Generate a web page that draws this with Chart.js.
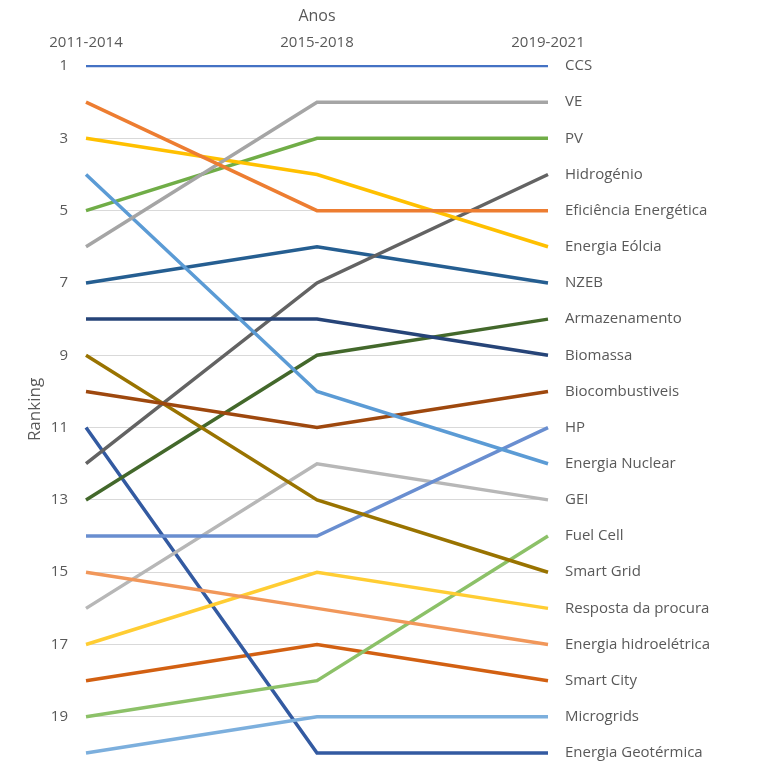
<!DOCTYPE html>
<html>
<head>
<meta charset="utf-8">
<script src="https://cdn.jsdelivr.net/npm/chart.js@4.4.1/dist/chart.umd.min.js"></script>
<style>
  html, body { margin: 0; padding: 0; background: #ffffff; }
  #wrap { width: 764px; height: 771px; position: relative; }
</style>
</head>
<body>
<div id="wrap"><canvas id="bump"></canvas></div>
<script>
const periods = ["2011-2014", "2015-2018", "2019-2021"];
const techNames = [
  "CCS", "Eficiência Energética", "VE", "Energia Eólcia", "Energia Nuclear", "PV",
  "Biomassa", "Biocombustiveis", "Hidrogénio", "Smart Grid", "NZEB", "Armazenamento",
  "HP", "Energia hidroelétrica", "GEI", "Resposta da procura", "Microgrids", "Fuel Cell",
  "Energia Geotérmica", "Smart City"
];
const rank2011 = [1, 2, 6, 3, 4, 5, 8, 10, 12, 9, 7, 13, 14, 15, 16, 17, 20, 19, 11, 18];
const rank2015 = [1, 5, 2, 4, 10, 3, 8, 11, 7, 13, 6, 9, 14, 16, 12, 15, 19, 18, 20, 17];
const rank2019 = [1, 5, 2, 6, 12, 3, 9, 10, 4, 15, 7, 8, 11, 17, 13, 16, 19, 14, 20, 18];
const rankTicks = [1, 3, 5, 7, 9, 11, 13, 15, 17, 19];

const lineColors = [
  "#4472C4", "#ED7D31", "#A5A5A5", "#FFC000", "#5B9BD5", "#70AD47",
  "#264478", "#9E480E", "#636363", "#997300", "#255E91", "#43682B",
  "#698ED0", "#F1975A", "#B7B7B7", "#FFCD33", "#7CAFDD", "#8CC168",
  "#335AA1", "#D26012"
];

const TXT = "#595959";
const FONT = "'Open Sans', 'DejaVu Sans', sans-serif";

const datasets = techNames.map((name, i) => ({
  label: name,
  data: [rank2011[i], rank2015[i], rank2019[i]],
  borderColor: lineColors[i],
  backgroundColor: lineColors[i],
  borderWidth: i === 0 ? 2.25 : 3.5,
  pointRadius: 0,
  tension: 0,
  clip: false,
  yAxisID: "y",
}));

// label on the right = name of the series ending at that rank
function nameAtRank(r) {
  const idx = rank2019.indexOf(r);
  return idx >= 0 ? techNames[idx] : "";
}

// fixed axis sizes so the plot area lands where the original has it
function fixWidth(w) {
  return (axis) => {
    axis.width = w;
    axis.paddingTop = 0;
    axis.paddingBottom = 0;
  };
}

new Chart(document.getElementById("bump"), {
  type: "line",
  data: { labels: periods, datasets: datasets },
  options: {
    responsive: true,
    maintainAspectRatio: false,
    animation: false,
    layout: { padding: { top: 0, right: 0, bottom: 18, left: 17 } },
    plugins: {
      legend: { display: false },
      tooltip: { enabled: false },
    },
    scales: {
      x: {
        position: "top",
        offset: false,
        afterFit: (axis) => { axis.height = 66; },
        grid: { display: false },
        border: { display: false },
        ticks: { color: TXT, font: { family: FONT, size: 15 }, padding: 6, maxRotation: 0 },
        title: {
          display: true,
          text: "Anos",
          color: TXT,
          font: { family: FONT, size: 16 },
          padding: { top: 7, bottom: 0 },
        },
      },
      y: {
        reverse: true,
        min: 1,
        max: 20,
        afterBuildTicks: (axis) => {
          axis.ticks = rankTicks.map((v) => ({ value: v }));
        },
        afterFit: fixWidth(69),
        grid: { color: "#D9D9D9", lineWidth: 1, drawTicks: false },
        border: { display: false },
        ticks: { color: TXT, font: { family: FONT, size: 15 }, padding: 18 },
        title: {
          display: true,
          text: "Ranking",
          color: TXT,
          font: { family: FONT, size: 17 },
          padding: { top: 8, bottom: 0 },
        },
      },
      y2: {
        position: "right",
        reverse: true,
        min: 1,
        max: 20,
        afterBuildTicks: (axis) => {
          axis.ticks = rank2019.slice().sort((a, b) => a - b).map((v) => ({ value: v }));
        },
        afterFit: fixWidth(216),
        grid: { display: false, drawTicks: false },
        border: { display: false },
        ticks: {
          color: TXT,
          font: { family: FONT, size: 15 },
          padding: 17,
          callback: (v) => nameAtRank(v),
        },
      },
    },
  },
});
</script>
</body>
</html>
